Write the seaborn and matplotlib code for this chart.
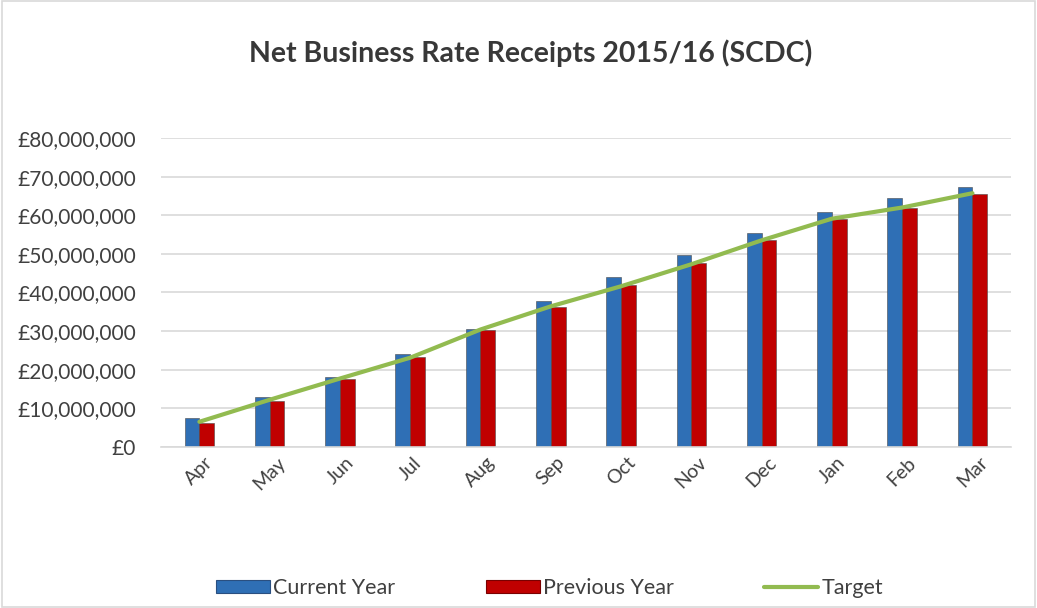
import numpy as np
import pandas as pd
import matplotlib
matplotlib.use("Agg")
import matplotlib.pyplot as plt
import seaborn as sns
from matplotlib.ticker import FuncFormatter
from matplotlib.patches import Rectangle
from matplotlib.lines import Line2D

months = ["Apr", "May", "Jun", "Jul", "Aug", "Sep", "Oct", "Nov", "Dec", "Jan", "Feb", "Mar"]
current_year = [7.6, 12.9, 18.0, 24.1, 30.6, 37.7, 44.0, 49.6, 55.5, 60.9, 64.5, 67.4]
previous_year = [6.2, 11.9, 17.6, 23.3, 30.4, 36.3, 42.0, 47.7, 53.5, 59.0, 61.8, 65.5]
target = [6.5, 12.2, 17.7, 23.1, 30.4, 36.4, 41.6, 47.3, 53.5, 59.1, 62.0, 65.7]
series_names = ["Current Year", "Previous Year"]

df = pd.DataFrame({
    "Month": months * 2,
    "Receipts": np.array(current_year + previous_year) * 1e6,
    "Series": [series_names[0]] * len(months) + [series_names[1]] * len(months),
})

sns.set_theme(style="white")
plt.rcParams["font.family"] = ["Lato", "DejaVu Sans"]

fig = plt.figure(figsize=(10.37, 6.08), dpi=100)
ax = fig.add_axes([0.155, 0.265, 0.82, 0.508])

blue = "#2F6FB5"
red = "#C00000"
green = "#92BB50"

sns.barplot(data=df, x="Month", y="Receipts", hue="Series", order=months,
            hue_order=series_names, palette=[blue, red], width=0.42,
            ax=ax, legend=False, saturation=1, edgecolor="#4a4a4a", linewidth=0.4)

ax.plot(np.arange(len(months)), np.array(target) * 1e6, color=green, lw=3, zorder=5,
        solid_capstyle="round")

ax.set_ylim(0, 80e6)
ax.set_yticks(np.arange(0, 80e6 + 1, 10e6))
ax.yaxis.set_major_formatter(FuncFormatter(lambda v, p: f"£{v:,.0f}"))
ax.set_xlim(-0.55, len(months) - 0.45)
ax.set_xlabel("")
ax.set_ylabel("")
ax.grid(axis="y", color="#D9D9D9", lw=1.2)
ax.set_axisbelow(True)
for s in ["top", "right", "left"]:
    ax.spines[s].set_visible(False)
ax.spines["bottom"].set_color("#D9D9D9")
ax.spines["bottom"].set_linewidth(1.2)
ax.tick_params(axis="y", labelsize=15, labelcolor="#404040", length=0, pad=18)
ax.tick_params(axis="x", labelsize=14, labelcolor="#404040", length=0, pad=5)
plt.setp(ax.get_xticklabels(), rotation=45, ha="center", va="top", rotation_mode="default")

fig.text(0.512, 0.913, "Net Business Rate Receipts 2015/16 (SCDC)", ha="center", va="center",
         fontsize=20.5, fontweight="bold", color="#383838")

handles = [
    Rectangle((0, 0), 1, 1, facecolor=blue, edgecolor="#2a4f80", lw=0.8),
    Rectangle((0, 0), 1, 1, facecolor=red, edgecolor="#7a0000", lw=0.8),
    Line2D([0], [0], color=green, lw=3),
]
fig.legend(handles, ["Current Year", "Previous Year", "Target"], loc="center",
           bbox_to_anchor=(0.530, 0.033), ncol=3, frameon=False, fontsize=15.5,
           handlelength=2.5, handleheight=0.55, handletextpad=0.15, columnspacing=4.2,
           labelcolor="#404040")

fig.add_artist(Rectangle((0.0015, 0.002), 0.997, 0.996, transform=fig.transFigure,
                         fill=False, edgecolor="#D9D9D9", lw=1.2))

fig.savefig("out.png", dpi=100)
